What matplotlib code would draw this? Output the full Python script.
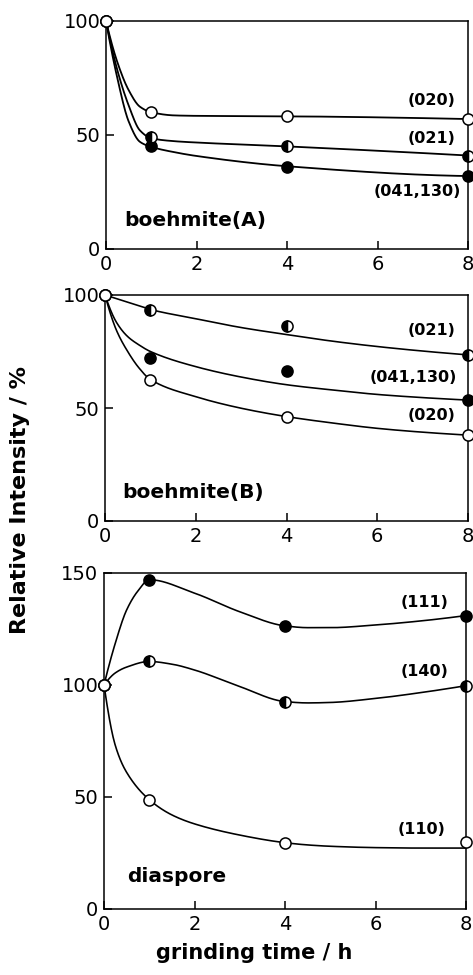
import numpy as np
import matplotlib
matplotlib.use('Agg')
import matplotlib.pyplot as plt

plt.rcParams['font.family'] = ['DejaVu Sans']

# tiempos de molienda medidos
tiempo = [0, 1, 4, 8]

# boehmite(A): puntos medidos
a_020 = [100, 60, 58.5, 57]
a_021 = [100, 49, 45, 41]
a_041 = [100, 45, 36, 32]
# curvas dibujadas a mano (puntos de control)
a_curva_x = [0, 0.25, 0.5, 0.75, 1, 1.5, 2, 4, 8]
a_curva_020 = [100, 82, 69.7, 62.4, 60, 58.6, 58.4, 58.2, 57]
a_curva_021 = [100, 78.5, 63, 52, 48.6, 47.3, 46.7, 45, 41]
a_curva_041 = [100, 75, 56, 47, 44.8, 42.5, 40.8, 36.3, 32]

# boehmite(B)
b_021 = [100, 93.5, 86.5, 73.5]
b_041 = [100, 72, 66.4, 53.5]
b_020 = [100, 62.6, 46.2, 38]
b_curva_x = [0, 0.25, 0.5, 0.75, 1, 2, 3, 4, 5, 6, 7, 8]
b_curva_021 = [100, 98.4, 96.8, 95.2, 93.6, 89.5, 85.6, 82.5, 79.6, 77.2, 75.2, 73.5]
b_curva_041 = [100, 88, 81.6, 77.9, 75, 68.3, 63.7, 60.3, 58, 56, 54.6, 53.5]
b_curva_020 = [100, 84.5, 75, 67.7, 62.6, 55, 49.9, 46.2, 43.4, 41, 39.3, 38]

# diaspore
d_111 = [100, 147, 126.3, 131]
d_140 = [100, 110.5, 92.6, 99.7]
d_110 = [100, 48.8, 29.6, 30]
d_curva_x_111 = [0, 0.25, 0.5, 0.75, 1, 2, 3, 4, 4.5, 5, 6, 7, 8]
d_curva_111 = [100, 118.7, 133.5, 142, 147, 141, 132.7, 126.4, 125.6, 125.6, 126.8, 128.6, 131]
d_curva_x = [0, 0.25, 0.5, 1, 1.5, 2, 3, 4, 4.5, 5, 6, 7, 8]
d_curva_140 = [100, 105.4, 108, 110.5, 109.3, 106.7, 99.3, 92.6, 92, 92.2, 94, 96.6, 99.7]
d_curva_110 = [100, 73, 61, 48.8, 42, 38, 33, 29.6, 28.6, 28, 27.4, 27.2, 27.2]


def pchip(x, y, xs):
    """interpolacion cubica monotona (para suavizar las curvas)"""
    x = np.asarray(x, float)
    y = np.asarray(y, float)
    h = np.diff(x)
    d = np.diff(y) / h
    m = np.zeros_like(y)
    for k in range(1, len(x) - 1):
        if d[k - 1] * d[k] > 0:
            w1 = 2 * h[k] + h[k - 1]
            w2 = h[k] + 2 * h[k - 1]
            m[k] = (w1 + w2) / (w1 / d[k - 1] + w2 / d[k])

    # derivadas en los extremos (formula de 3 puntos)
    def extremo(h0, h1, d0, d1):
        mm = ((2 * h0 + h1) * d0 - h0 * d1) / (h0 + h1)
        if np.sign(mm) != np.sign(d0):
            return 0.0
        if np.sign(d0) != np.sign(d1) and abs(mm) > abs(3 * d0):
            return 3 * d0
        return mm

    m[0] = extremo(h[0], h[1], d[0], d[1])
    m[-1] = extremo(h[-1], h[-2], d[-1], d[-2])
    idx = np.clip(np.searchsorted(x, xs) - 1, 0, len(x) - 2)
    t = (xs - x[idx]) / h[idx]
    h00 = 2 * t**3 - 3 * t**2 + 1
    h10 = t**3 - 2 * t**2 + t
    h01 = -2 * t**3 + 3 * t**2
    h11 = t**3 - t**2
    return h00 * y[idx] + h10 * h[idx] * m[idx] + h01 * y[idx + 1] + h11 * h[idx] * m[idx + 1]


xs = np.linspace(0, 8, 600)

fig = plt.figure(figsize=(4.73, 9.75), dpi=100)
ax1 = fig.add_axes([106 / 473, 1 - 249 / 975, 362 / 473, 228 / 975])
ax2 = fig.add_axes([105 / 473, 1 - 521 / 975, 363 / 473, 226 / 975])
ax3 = fig.add_axes([104 / 473, 1 - 909 / 975, 362 / 473, 336 / 975])

lw = 1.3
ms = 8


def puntos(ax, y, estilo):
    if estilo == 'abierto':
        ax.plot(tiempo, y, 'o', ms=ms, mfc='white', mec='black', mew=1.1, clip_on=False, zorder=5)
    elif estilo == 'lleno':
        ax.plot(tiempo, y, 'o', ms=ms, mfc='black', mec='black', mew=1.1, clip_on=False, zorder=4)
    else:
        ax.plot(tiempo, y, 'o', ms=ms, fillstyle='left', mfc='black', markerfacecoloralt='white',
                mec='black', mew=1.1, clip_on=False, zorder=4)


# boehmite(A)
ax1.plot(xs, pchip(a_curva_x, a_curva_020, xs), 'k-', lw=lw, clip_on=False)
ax1.plot(xs, pchip(a_curva_x, a_curva_021, xs), 'k-', lw=lw, clip_on=False)
ax1.plot(xs, pchip(a_curva_x, a_curva_041, xs), 'k-', lw=lw, clip_on=False)
puntos(ax1, a_041, 'lleno')
puntos(ax1, a_021, 'medio')
puntos(ax1, a_020, 'abierto')
ax1.set_ylim(0, 100)
ax1.set_yticks([0, 50, 100])
ax1.text(7.72, 65, '(020)', fontsize=11.5, fontweight='bold', ha='right', va='center')
ax1.text(7.72, 48.5, '(021)', fontsize=11.5, fontweight='bold', ha='right', va='center')
ax1.text(7.85, 25, '(041,130)', fontsize=11.5, fontweight='bold', ha='right', va='center')
ax1.text(0.4, 12.5, 'boehmite(A)', fontsize=14.5, fontweight='bold', ha='left', va='center')

# boehmite(B)
ax2.plot(xs, pchip(b_curva_x, b_curva_021, xs), 'k-', lw=lw * 0.9, clip_on=False)
ax2.plot(xs, pchip(b_curva_x, b_curva_041, xs), 'k-', lw=lw * 0.9, clip_on=False)
ax2.plot(xs, pchip(b_curva_x, b_curva_020, xs), 'k-', lw=lw * 0.9, clip_on=False)
puntos(ax2, b_041, 'lleno')
puntos(ax2, b_021, 'medio')
puntos(ax2, b_020, 'abierto')
ax2.set_ylim(0, 100)
ax2.set_yticks([0, 50, 100])
ax2.text(7.72, 84.5, '(021)', fontsize=11.5, fontweight='bold', ha='right', va='center')
ax2.text(7.75, 63.5, '(041,130)', fontsize=11.5, fontweight='bold', ha='right', va='center')
ax2.text(7.72, 46.5, '(020)', fontsize=11.5, fontweight='bold', ha='right', va='center')
ax2.text(0.38, 12.8, 'boehmite(B)', fontsize=14.5, fontweight='bold', ha='left', va='center')

# diaspore
ax3.plot(xs, pchip(d_curva_x_111, d_curva_111, xs), 'k-', lw=lw * 0.9, clip_on=False)
ax3.plot(xs, pchip(d_curva_x, d_curva_140, xs), 'k-', lw=lw * 0.9, clip_on=False)
ax3.plot(xs, pchip(d_curva_x, d_curva_110, xs), 'k-', lw=lw * 0.9, clip_on=False)
puntos(ax3, d_111, 'lleno')
puntos(ax3, d_140, 'medio')
puntos(ax3, d_110, 'abierto')
ax3.set_ylim(0, 150)
ax3.set_yticks([0, 50, 100, 150])
ax3.text(7.62, 137, '(111)', fontsize=11.5, fontweight='bold', ha='right', va='center')
ax3.text(7.62, 106, '(140)', fontsize=11.5, fontweight='bold', ha='right', va='center')
ax3.text(7.55, 35.5, '(110)', fontsize=11.5, fontweight='bold', ha='right', va='center')
ax3.text(0.5, 14.5, 'diaspore', fontsize=14.5, fontweight='bold', ha='left', va='center')

for ax in (ax1, ax2, ax3):
    ax.set_xlim(0, 8)
    ax.set_xticks([0, 2, 4, 6, 8])
    ax.tick_params(direction='in', length=6, width=1.1, labelsize=14, pad=4)
    for lado in ax.spines.values():
        lado.set_linewidth(1.1)

fig.text(0.043, 0.487, 'Relative Intensity / %', rotation=90, fontsize=16, fontweight='bold',
         ha='center', va='center')
fig.text(0.537, 0.012, 'grinding time / h', fontsize=15, fontweight='bold', ha='center', va='bottom')

fig.savefig('out.png', dpi=100)
